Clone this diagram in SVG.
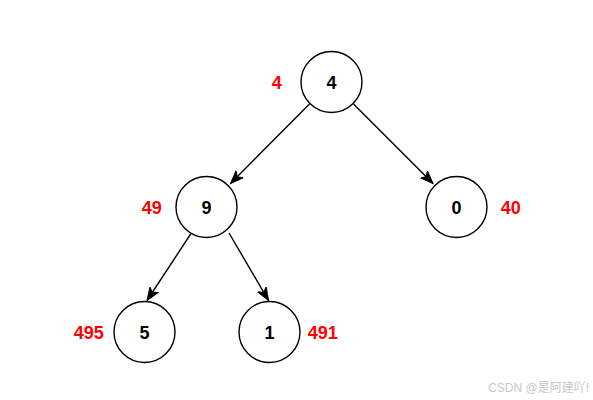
<svg xmlns="http://www.w3.org/2000/svg" width="593" height="400" viewBox="0 0 593 400">
<style>
.node circle{fill:#fff;stroke:#000;stroke-width:1.4}
.node text{font-family:"Liberation Sans",Arial,sans-serif;font-size:18px;font-weight:bold;fill:#000;text-anchor:middle}
.lbl{font-family:"Liberation Sans",Arial,sans-serif;font-size:18px;font-weight:bold;fill:#ff0000;text-anchor:middle}
.edge{stroke:#000;stroke-width:1.4;fill:none;marker-end:url(#arr)}
.wm{font-family:"Liberation Sans","Noto Sans CJK SC",sans-serif;font-size:12px;fill:#c8c8c8;text-anchor:end}
</style>
<defs>
<marker id="arr" markerUnits="userSpaceOnUse" markerWidth="15" markerHeight="13" viewBox="0 0 15 13" refX="13" refY="6.5" orient="auto">
<path d="M0,1.5 L13,6.5 L0,11.5 L3.5,6.5 Z" fill="#000" stroke="#000" stroke-width="1"/>
</marker>
</defs>
<g id="connectors">
<line class="edge" x1="309.5" y1="104" x2="230.5" y2="183.5"/>
<line class="edge" x1="353.5" y1="104" x2="433" y2="183.5"/>
<line class="edge" x1="191" y1="233.5" x2="147" y2="300.5"/>
<line class="edge" x1="229" y1="233" x2="268.5" y2="300.5"/>
</g>
<g id="n4" class="node"><circle cx="331.5" cy="82" r="30.5"/><text x="331.5" y="88.5">4</text></g>
<g id="n9" class="node"><circle cx="206.5" cy="207" r="30.5"/><text x="206.5" y="213.5">9</text></g>
<g id="n0" class="node"><circle cx="456.5" cy="207" r="30.5"/><text x="456.5" y="213.5">0</text></g>
<g id="n5" class="node"><circle cx="144.5" cy="332" r="30.5"/><text x="144.5" y="338.5">5</text></g>
<g id="n1" class="node"><circle cx="269.5" cy="332" r="30.5"/><text x="269.5" y="338.5">1</text></g>
<g id="labels">
<text class="lbl" x="276.7" y="88.5">4</text>
<text class="lbl" x="151.7" y="213.5">49</text>
<text class="lbl" x="510.7" y="213.5">40</text>
<text class="lbl" x="88.7" y="338.5">495</text>
<text class="lbl" x="322.7" y="338.5">491</text>
</g>
<text class="wm" x="589" y="392">CSDN @是阿建吖!</text>
</svg>
